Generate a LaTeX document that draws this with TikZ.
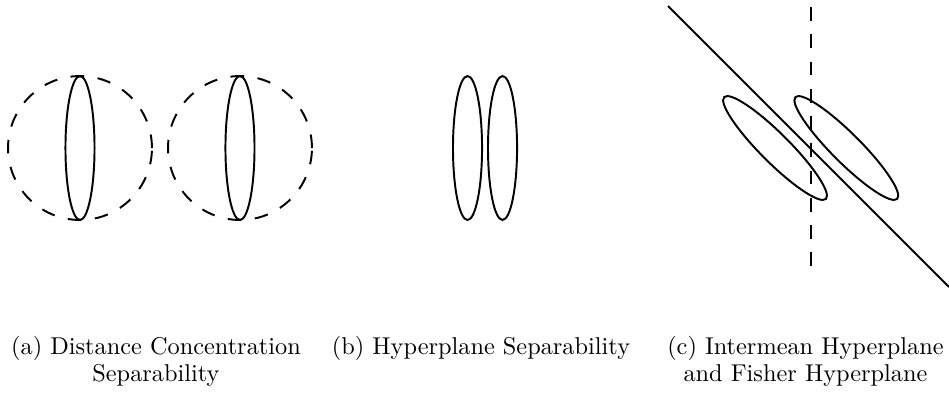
\documentclass[tikz,border=0pt]{standalone}
\usepackage{amsmath}
\usepackage{tikz}
\tikzstyle{sphere} = [black, thick, dash pattern=on 5.6pt off 5.6pt]
\tikzstyle{cluster} = [black, thick]
\tikzstyle{plane} = [black, thick]
\tikzstyle{subcap} = [inner sep=0pt, align=center, anchor=base, font=\fontsize{10}{10.8}\selectfont]

\begin{document}
\begin{tikzpicture}
            \useasboundingbox (0,0) rectangle (13.714,5.665);
            % (a) distance concentration
            \coordinate (ca1) at (1.156,3.526);
            \coordinate (ca2) at (3.468,3.526);
            \draw [sphere] (ca1) circle (1.04);
            \draw [cluster] (ca1) ellipse (0.21 and 1.04);
            \draw [sphere] (ca2) circle (1.04);
            \draw [cluster] (ca2) ellipse (0.21 and 1.04);
            \node [subcap] (capA) at (2.254,0.159) {(a) Distance Concentration\\Separability};
            % (b) hyperplane
            \coordinate (cb1) at (6.756,3.526);
            \coordinate (cb2) at (7.262,3.526);
            \draw [cluster] (cb1) ellipse (0.21 and 1.04);
            \draw [cluster] (cb2) ellipse (0.21 and 1.04);
            \node [subcap] (capB) at (6.951,0.535) {(b) Hyperplane Separability};
            % (c) intermean and fisher
            \coordinate (cc1) at (11.20,3.526);
            \coordinate (cc2) at (12.23,3.526);
            \draw [cluster, rotate around={45:(cc1)}] (cc1) ellipse (0.21 and 1.04);
            \draw [cluster, rotate around={45:(cc2)}] (cc2) ellipse (0.21 and 1.04);
            \coordinate (fTop) at (9.653,5.578);
            \coordinate (fBot) at (13.714,1.517);
            \draw [plane] (fTop) -- (fBot);
            \coordinate (iTop) at (11.72,5.56);
            \coordinate (iBot) at (11.72,1.66);
            \draw [sphere] (iTop) -- (iBot);
            \node [subcap] (capC) at (11.64,0.159) {(c) Intermean Hyperplane\\and Fisher Hyperplane};
\end{tikzpicture}
\end{document}
